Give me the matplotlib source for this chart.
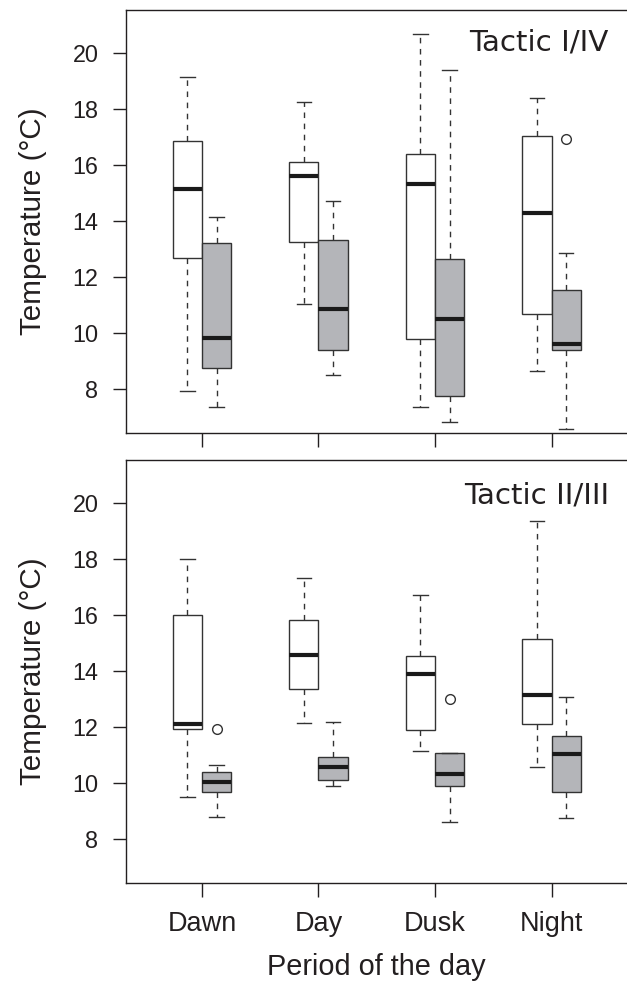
import matplotlib
matplotlib.use("Agg")
import matplotlib.pyplot as plt

periods = ["Dawn", "Day", "Dusk", "Night"]
positions = [1, 2, 3, 4]

# five-number summaries per period: [lower whisker, Q1, median, Q3, upper whisker]
t14_white = [[7.93, 12.67, 15.14, 16.87, 19.17],
             [11.05, 13.27, 15.60, 16.12, 18.25],
             [7.37, 9.79, 15.32, 16.41, 20.70],
             [8.63, 10.69, 14.29, 17.06, 18.40]]
t14_gray = [[7.37, 8.75, 9.84, 13.21, 14.15],
            [8.51, 9.41, 10.88, 13.32, 14.72],
            [6.83, 7.77, 10.49, 12.66, 19.39],
            [6.58, 9.39, 9.61, 11.55, 12.85]]
t14_white_out = [[], [], [], []]
t14_gray_out = [[], [], [], [16.95]]

t23_white = [[9.50, 11.94, 12.12, 16.00, 18.01],
             [12.15, 13.37, 14.58, 15.82, 17.33],
             [11.15, 11.89, 13.91, 14.54, 16.73],
             [10.56, 12.10, 13.16, 15.15, 19.37]]
t23_gray = [[8.79, 9.67, 10.04, 10.38, 10.65],
            [9.88, 10.10, 10.57, 10.93, 12.16],
            [8.61, 9.88, 10.31, 11.06, 11.06],
            [8.73, 9.69, 11.02, 11.67, 13.08]]
t23_white_out = [[], [], [], []]
t23_gray_out = [[11.92], [], [12.99], []]

ink = "#231f20"
edge = "#333333"
gray_fill = "#b4b5b9"
num_font = ["Liberation Sans", "DejaVu Sans"]


def make_stats(summary, outliers):
    stats = []
    for s, o in zip(summary, outliers):
        stats.append(dict(whislo=s[0], q1=s[1], med=s[2], q3=s[3], whishi=s[4], fliers=o))
    return stats


def draw_boxes(ax, summary, outliers, offset, fill):
    ax.bxp(make_stats(summary, outliers),
           positions=[p + offset for p in positions],
           widths=0.25, capwidths=0.125, patch_artist=True, manage_ticks=False,
           boxprops=dict(facecolor=fill, edgecolor=edge, linewidth=1.0),
           medianprops=dict(color="#1a1a1a", linewidth=3.0, solid_capstyle="butt"),
           whiskerprops=dict(color=edge, linewidth=1.0, linestyle=(0, (4, 4))),
           capprops=dict(color=edge, linewidth=1.0),
           flierprops=dict(marker="o", markerfacecolor="none", markeredgecolor=edge,
                           markersize=7, markeredgewidth=1.0))


def setup_panel(ax, title, title_y, show_labels):
    ax.set_xlim(0.344, 4.656)
    ax.set_ylim(6.43, 21.55)
    ax.set_yticks([8, 10, 12, 14, 16, 18, 20])
    ax.set_xticks(positions)
    ax.set_xticklabels(periods if show_labels else [])
    ax.spines["right"].set_visible(False)
    for sp in ["left", "top", "bottom"]:
        ax.spines[sp].set_color(ink)
        ax.spines[sp].set_linewidth(1.0)
    ax.tick_params(axis="y", direction="out", length=9.5, width=1.0, pad=10,
                   colors=ink, labelsize=16.8)
    ax.tick_params(axis="x", direction="out", length=10, width=1.0, pad=10.5,
                   colors=ink, labelsize=19.5, labelbottom=show_labels)
    for lab in ax.get_yticklabels() + ax.get_xticklabels():
        lab.set_family(num_font)
    ax.text(0.962, title_y, title, transform=ax.transAxes, ha="right", va="baseline",
            fontsize=21.2, family="DejaVu Sans", color=ink)


fig = plt.figure(figsize=(6.27, 9.9), dpi=100)
ax1 = fig.add_axes([0.2002, 0.5626, 0.8014, 0.4273])
ax2 = fig.add_axes([0.2002, 0.1084, 0.8014, 0.4270])

draw_boxes(ax1, t14_white, t14_white_out, -0.125, "white")
draw_boxes(ax1, t14_gray, t14_gray_out, 0.125, gray_fill)
setup_panel(ax1, "Tactic I/IV", 0.9054, False)

draw_boxes(ax2, t23_white, t23_white_out, -0.125, "white")
draw_boxes(ax2, t23_gray, t23_gray_out, 0.125, gray_fill)
setup_panel(ax2, "Tactic II/III", 0.8976, True)

for ax in (ax1, ax2):
    pos = ax.get_position()
    fig.text(0.053, (pos.y0 + pos.y1) / 2, "Temperature (°C)", rotation=90,
             ha="center", va="center", fontsize=21.3, family=num_font, color=ink)

fig.text(0.6008, 0.01515, "Period of the day", ha="center", va="baseline",
         fontsize=20.8, family=num_font, color=ink)

fig.savefig("out.png", dpi=100)
